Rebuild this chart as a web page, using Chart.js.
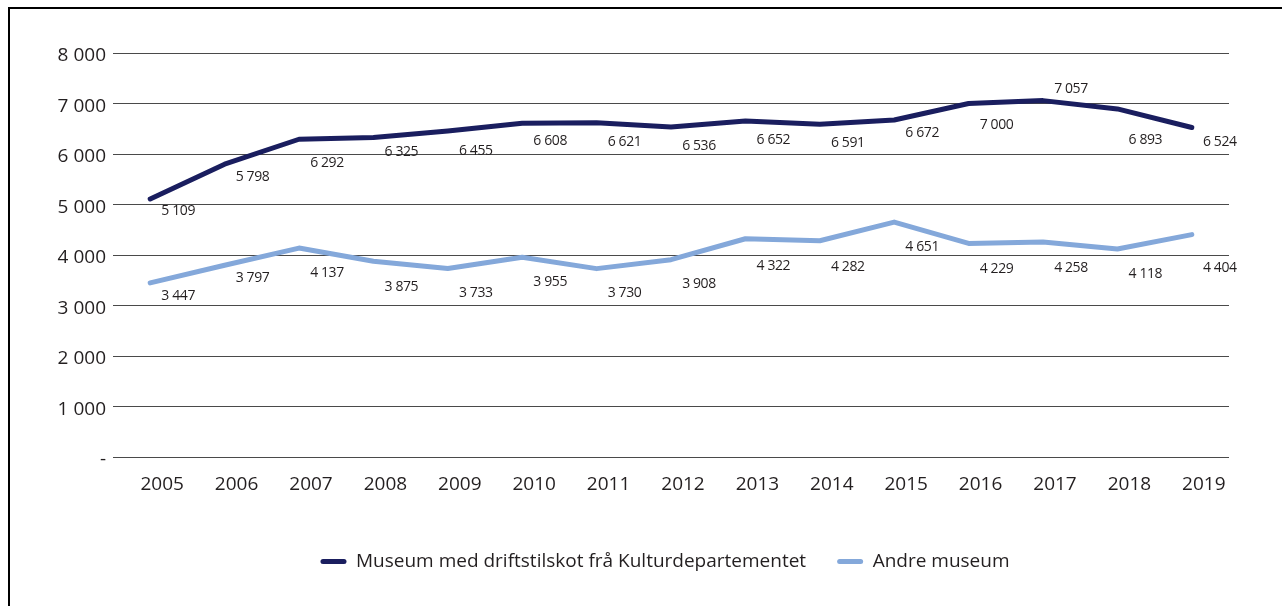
<!DOCTYPE html>
<html>
<head>
<meta charset="utf-8">
<script src="https://cdn.jsdelivr.net/npm/chart.js@4.4.1/dist/chart.umd.min.js"></script>
<style>
html, body { margin: 0; padding: 0; background: #fff; overflow: hidden; }
#wrap { position: relative; width: 1282px; height: 606px; overflow: hidden; }
#frame { position: absolute; left: 8px; top: 7px; width: 1400px; height: 700px; border: 2px solid #000; box-sizing: border-box; }
#c { position: absolute; left: 0; top: 0; }
</style>
</head>
<body>
<div id="wrap">
  <div id="frame"></div>
  <canvas id="c" width="1282" height="606"></canvas>
</div>
<script>
// ---- Data ----
const years = ['2005','2006','2007','2008','2009','2010','2011','2012','2013','2014','2015','2016','2017','2018','2019'];
const museumKud = [5109, 5798, 6292, 6325, 6455, 6608, 6621, 6536, 6652, 6591, 6672, 7000, 7057, 6893, 6524];
const andreMuseum = [3447, 3797, 4137, 3875, 3733, 3955, 3730, 3908, 4322, 4282, 4651, 4229, 4258, 4118, 4404];
const seriesNames = ['Museum med driftstilskot frå Kulturdepartementet', 'Andre museum'];
const yTickValues = [0, 1000, 2000, 3000, 4000, 5000, 6000, 7000, 8000];
const yTickLabels = ['-', '1 000', '2 000', '3 000', '4 000', '5 000', '6 000', '7 000', '8 000'];

// Vertical offsets (px) of each value label relative to its point, as placed in the original
const kudLabelDy = [12, 13, 24, 14, 20, 18, 19, 19, 19, 19, 13, 22, -12, 31, 14];
const andreLabelDy = [13, 13, 25, 26, 25, 25, 24, 24, 27, 26, 25, 26, 26, 25, 33];

const colKud = '#1a1e5f';
const colAndre = '#84a8da';
const textCol = '#231f20';
const axisFont = { family: "'Open Sans', 'Noto Sans', sans-serif", size: 19 };

function fmt(v) { return String(v).replace(/\B(?=(\d{3})+(?!\d))/g, ' '); }

const valueLabels = {
  id: 'valueLabels',
  afterDatasetsDraw(chart) {
    const ctx = chart.ctx;
    const offsets = [kudLabelDy, andreLabelDy];
    ctx.save();
    ctx.font = "14px 'Open Sans', sans-serif";
    try { ctx.letterSpacing = '-0.4px'; } catch (e) {}
    ctx.fillStyle = textCol;
    ctx.textAlign = 'center';
    ctx.textBaseline = 'middle';
    chart.data.datasets.forEach((ds, di) => {
      const meta = chart.getDatasetMeta(di);
      meta.data.forEach((pt, i) => {
        ctx.fillText(fmt(ds.data[i]), pt.x + 28, pt.y + offsets[di][i]);
      });
    });
    ctx.restore();
  }
};

const legendShift = {
  id: 'legendShift',
  afterLayout(chart) {
    const lg = chart.legend;
    const shift = 665 - (lg.left + lg.right) / 2;
    lg.left += shift;
    lg.right += shift;
  }
};

new Chart(document.getElementById('c'), {
  type: 'line',
  data: {
    labels: years,
    datasets: [
      { label: seriesNames[0], data: museumKud, borderColor: colKud, backgroundColor: colKud,
        borderWidth: 5, pointRadius: 0, tension: 0, borderCapStyle: 'round', borderJoinStyle: 'round' },
      { label: seriesNames[1], data: andreMuseum, borderColor: colAndre, backgroundColor: colAndre,
        borderWidth: 5, pointRadius: 0, tension: 0, borderCapStyle: 'round', borderJoinStyle: 'round' }
    ]
  },
  options: {
    responsive: false,
    animation: false,
    devicePixelRatio: 1,
    layout: { padding: { top: 53, right: 53, bottom: 25, left: 0 } },
    scales: {
      x: {
        offset: true,
        grid: { display: false, drawTicks: false },
        border: { display: false },
        ticks: { font: axisFont, color: textCol, padding: 16, labelOffset: 12, maxRotation: 0, autoSkip: false },
        afterFit(scale) { scale.height = 64; }
      },
      y: {
        min: 0, max: 8000,
        afterBuildTicks(scale) { scale.ticks = yTickValues.map(v => ({ value: v })); },
        grid: { color: '#4a4a4a', lineWidth: 1, drawTicks: false },
        border: { display: false },
        ticks: {
          font: axisFont, color: textCol, padding: 7, labelOffset: 3,
          callback(v) { const k = yTickValues.indexOf(v); return k >= 0 ? yTickLabels[k] : ''; }
        },
        afterFit(scale) { scale.width = 113; }
      }
    },
    plugins: {
      legend: {
        position: 'bottom',
        labels: {
          font: axisFont, color: textCol, boxWidth: 26, boxHeight: 5, padding: 31,
          useBorderRadius: true, borderRadius: 2.5,
          generateLabels(chart) {
            return Chart.defaults.plugins.legend.labels.generateLabels(chart).map(it => Object.assign(it, { lineWidth: 0 }));
          }
        }
      },
      tooltip: { enabled: false }
    }
  },
  plugins: [valueLabels, legendShift]
});
</script>
</body>
</html>
